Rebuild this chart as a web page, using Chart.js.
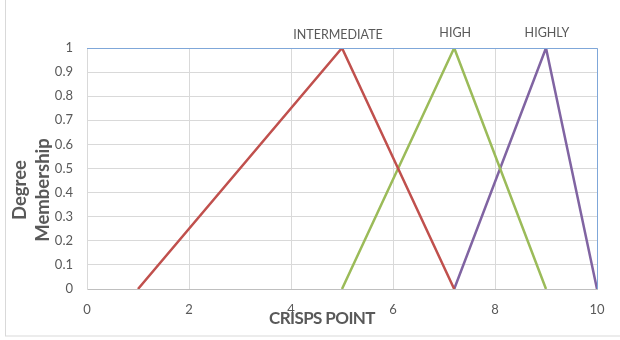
<!DOCTYPE html>
<html>
<head>
<meta charset="utf-8">
<script src="https://cdn.jsdelivr.net/npm/chart.js@4.4.1/dist/chart.umd.min.js"></script>
<style>
  html, body { margin: 0; padding: 0; background: #fff; }
  #wrap { width: 620px; height: 340px; position: relative; }
</style>
</head>
<body>
<div id="wrap"><canvas id="c" width="620" height="340"></canvas></div>
<script>
// Fuzzy membership functions: crisp point vs degree of membership
const seriesNames = ['INTERMEDIATE', 'HIGH', 'HIGHLY'];
const intermediateX = [1, 5, 7.2];
const intermediateY = [0, 1, 0];
const highX = [5, 7.2, 9];
const highY = [0, 1, 0];
const highlyX = [7.2, 9, 10];
const highlyY = [0, 1, 0];
const xTicks = [0, 2, 4, 6, 8, 10];
const yTicks = [0, 0.1, 0.2, 0.3, 0.4, 0.5, 0.6, 0.7, 0.8, 0.9, 1];

const colors = ['#C0504D', '#9BBB59', '#8064A2'];
const textColor = '#595959';
const fontFamily = 'Lato, "Open Sans", sans-serif';

function toPoints(xs, ys) { return xs.map((x, i) => ({ x: x, y: ys[i] })); }

const seriesData = [
  toPoints(intermediateX, intermediateY),
  toPoints(highX, highY),
  toPoints(highlyX, highlyY)
];

// Names printed above each peak, plus axis titles and outer frame
const decorations = {
  id: 'decorations',
  beforeDraw(chart) {
    const ctx = chart.ctx;
    ctx.save();
    ctx.strokeStyle = '#D9D9D9';
    ctx.lineWidth = 1;
    ctx.strokeRect(5.5, -2, 630, 338);
    ctx.restore();
  },
  afterDatasetsDraw(chart) {
    const ctx = chart.ctx;
    const area = chart.chartArea;
    ctx.save();
    // plot-area border on top and right
    ctx.strokeStyle = '#7FA7D9';
    ctx.lineWidth = 1;
    ctx.beginPath();
    ctx.moveTo(area.left, area.top + 0.5);
    ctx.lineTo(area.right + 0.5, area.top + 0.5);
    ctx.lineTo(area.right + 0.5, area.bottom);
    ctx.stroke();

    ctx.fillStyle = textColor;
    ctx.font = '12.5px ' + fontFamily;
    ctx.textAlign = 'center';
    ctx.textBaseline = 'middle';
    chart.data.datasets.forEach((ds, i) => {
      const meta = chart.getDatasetMeta(i);
      let peak = 0;
      ds.data.forEach((p, j) => { if (p.y > ds.data[peak].y) peak = j; });
      const el = meta.data[peak];
      const off = i === 0 ? -4 : 1;
      ctx.fillText(ds.label, el.x + off, el.y - (i === 0 ? 13 : 15));
    });

    // axis titles
    ctx.font = 'bold 17px ' + fontFamily;
    ctx.letterSpacing = '-0.6px';
    ctx.fillText('CRISPS POINT', 322, 319);
    ctx.letterSpacing = '0px';
    ctx.translate(31, 190);
    ctx.rotate(-Math.PI / 2);
    ctx.font = 'bold 18.5px ' + fontFamily;
    ctx.fillText('Degree', 0, -11);
    ctx.fillText('Membership', 0, 12);
    ctx.restore();
  }
};

new Chart(document.getElementById('c'), {
  type: 'scatter',
  data: {
    datasets: seriesData.map((d, i) => ({
      label: seriesNames[i],
      data: d,
      showLine: true,
      borderColor: colors[i],
      backgroundColor: colors[i],
      borderWidth: 2.5,
      pointRadius: 0,
      tension: 0
    }))
  },
  options: {
    responsive: false,
    animation: false,
    devicePixelRatio: 1,
    layout: { padding: { left: 0, top: 48, right: 23, bottom: 0 } },
    plugins: { legend: { display: false }, tooltip: { enabled: false } },
    scales: {
      x: {
        type: 'linear',
        min: 0, max: 10,
        afterFit: s => { s.height = 51; },
        afterBuildTicks: s => { s.ticks = xTicks.map(v => ({ value: v })); },
        grid: { color: '#D9D9D9', drawTicks: false, lineWidth: 1 },
        border: { color: '#BFBFBF' },
        ticks: { color: textColor, font: { family: fontFamily, size: 13 }, padding: 13, maxRotation: 0 }
      },
      y: {
        type: 'linear',
        min: 0, max: 1,
        afterFit: s => { s.width = 87; },
        afterBuildTicks: s => { s.ticks = yTicks.map(v => ({ value: v })); },
        grid: { color: '#D9D9D9', drawTicks: false, lineWidth: 1 },
        border: { color: '#D9D9D9' },
        ticks: { color: textColor, font: { family: fontFamily, size: 13 }, padding: 14,
                 callback: v => String(Math.round(v * 10) / 10) }
      }
    }
  },
  plugins: [decorations]
});
</script>
</body>
</html>
